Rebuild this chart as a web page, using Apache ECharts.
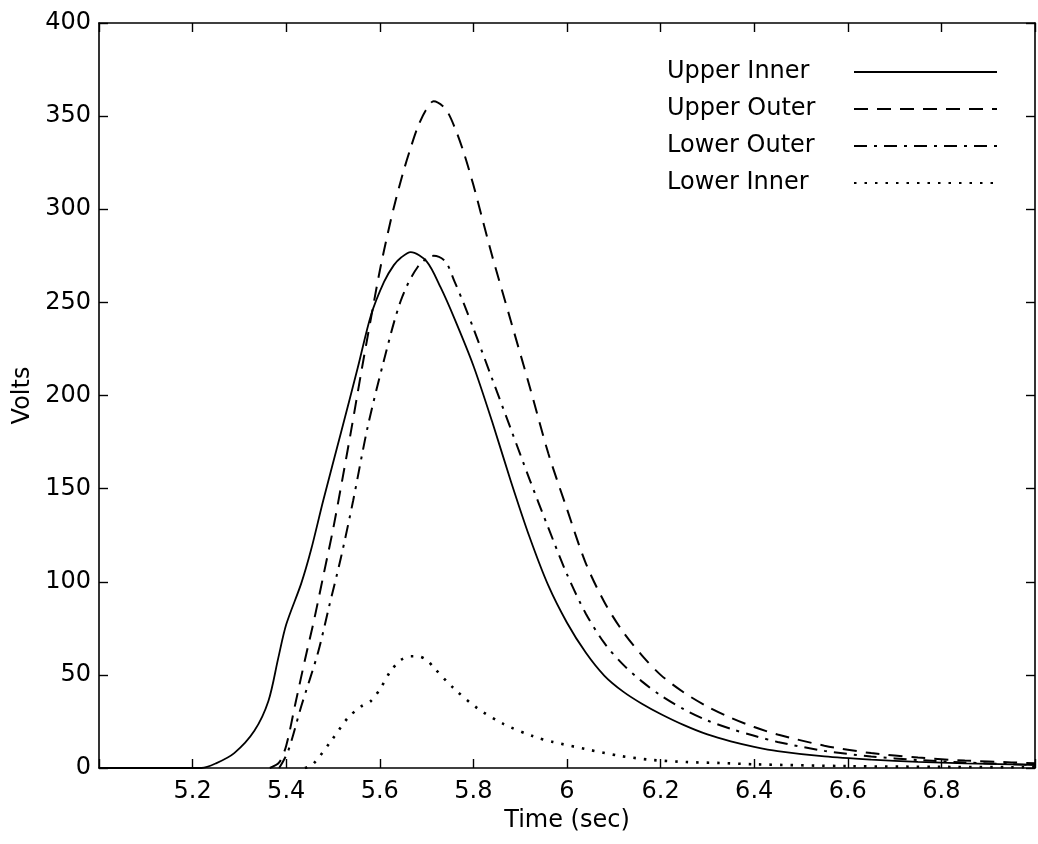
<!DOCTYPE html>
<html>
<head>
<meta charset="utf-8">
<script src="https://cdn.jsdelivr.net/npm/echarts@6/dist/echarts.min.js"></script>
<style>
  html, body { margin: 0; padding: 0; background: #fff; }
  #chart { width: 1038px; height: 844px; }
</style>
</head>
<body>
<div id="chart"></div>
<script>
// ---- data ----
const seriesNames = ['Upper Inner', 'Upper Outer', 'Lower Outer', 'Lower Inner'];

const upperInnerT = [5.00, 5.20, 5.219, 5.25, 5.289, 5.332, 5.362, 5.383, 5.400, 5.432, 5.453, 5.479, 5.517, 5.553, 5.581, 5.609, 5.630, 5.645, 5.666, 5.70, 5.73, 5.76, 5.80, 5.84, 5.88, 5.92, 5.96, 6.00, 6.04, 6.08, 6.12, 6.16, 6.20, 6.25, 6.30, 6.35, 6.40, 6.45, 6.55, 6.65, 6.75, 6.85, 6.95, 7.00];
const upperInnerV = [0, 0, 0, 2.5, 8, 20, 36, 59, 77, 99, 117, 143.5, 180, 215, 243, 261, 270, 274, 277, 272, 258, 241, 216, 186, 154, 124, 98, 78, 62, 49.5, 41, 34.5, 29, 23, 18, 14.3, 11.4, 9.1, 6.2, 4.5, 3.3, 2.5, 1.9, 1.6];

const upperOuterT = [5.365, 5.385, 5.40, 5.42, 5.44, 5.46, 5.48, 5.50, 5.52, 5.54, 5.56, 5.58, 5.60, 5.617, 5.630, 5.649, 5.666, 5.681, 5.698, 5.715, 5.74, 5.76, 5.78, 5.80, 5.82, 5.84, 5.88, 5.92, 5.96, 6.00, 6.04, 6.08, 6.12, 6.16, 6.20, 6.25, 6.30, 6.35, 6.40, 6.45, 6.55, 6.65, 6.75, 6.85, 6.95, 7.00];
const upperOuterV = [0, 3, 12, 35, 58, 80, 104, 128, 155, 183, 212, 240, 267, 287, 301, 319, 333, 344, 353, 358, 354, 344, 330, 313, 294, 275, 240, 205, 169, 139, 110, 89, 73, 60.5, 50, 40.5, 33, 27, 22, 18, 12, 8, 5.6, 4, 3, 2.6];

const lowerOuterT = [5.385, 5.404, 5.432, 5.468, 5.491, 5.517, 5.543, 5.574, 5.609, 5.645, 5.681, 5.715, 5.74, 5.76, 5.78, 5.80, 5.84, 5.88, 5.92, 5.96, 6.00, 6.04, 6.08, 6.12, 6.16, 6.20, 6.25, 6.30, 6.35, 6.40, 6.45, 6.55, 6.65, 6.75, 6.85, 6.95, 7.00];
const lowerOuterV = [0, 9, 33, 62, 86, 113, 143.5, 183, 219, 251, 269, 275, 272, 261, 249, 236, 209, 182, 155, 129, 104, 83, 67, 55.5, 46.5, 39, 31.5, 25.5, 21, 17.3, 14, 9.2, 6.2, 4.3, 3, 2, 1.7];

const lowerInnerT = [5.44, 5.457, 5.496, 5.532, 5.560, 5.581, 5.602, 5.623, 5.645, 5.666, 5.681, 5.700, 5.715, 5.757, 5.809, 5.864, 5.928, 5.970, 6.043, 6.113, 6.183, 6.255, 6.326, 6.40, 6.60, 6.80, 7.00];
const lowerInnerV = [0, 2, 14.5, 27, 33, 36, 43, 52, 58, 60, 60, 58, 54, 43, 32, 23.7, 17, 14, 10, 6.5, 4.3, 3.2, 2.7, 2, 1, 0.6, 0.4];

const xMin = 5.0, xMax = 7.0, xStep = 0.2;
const yMin = 0, yMax = 400, yStep = 50;

// ---- build ----
function pairs(t, v) { return t.map((x, i) => [x, v[i]]); }
const FONT = 'DejaVu Sans';
const dashStyles = ['solid', [14, 9], [13, 7, 3, 7], [2.5, 8]];
const lineWidths = [1.8, 2, 2, 2.6];
const allData = [
  pairs(upperInnerT, upperInnerV),
  pairs(upperOuterT, upperOuterV),
  pairs(lowerOuterT, lowerOuterV),
  pairs(lowerInnerT, lowerInnerV)
];

const axisCommon = {
  axisLine: { show: true, onZero: false, lineStyle: { color: '#000', width: 1.6 } },
  axisTick: { show: true, inside: true, length: 9, lineStyle: { color: '#000', width: 1.4 } },
  splitLine: { show: false }
};

function xFmt(v) {
  if (Math.abs(v - xMin) < 1e-6 || Math.abs(v - xMax) < 1e-6) return '';
  return String(parseFloat(v.toFixed(1)));
}

const chart = echarts.init(document.getElementById('chart'), null, { renderer: 'canvas' });
chart.setOption({
  backgroundColor: '#fff',
  animation: false,
  grid: { left: 99, right: 1, top: 23, bottom: 76, containLabel: false },
  legend: {
    data: seriesNames,
    orient: 'vertical',
    right: 40,
    top: 60,
    padding: 0,
    align: 'right',
    itemWidth: 143,
    itemHeight: 14,
    itemGap: 13,
    itemStyle: { opacity: 0, borderWidth: 0 },
    formatter: name => '{n|' + name + '}',
    textStyle: {
      fontFamily: FONT, fontSize: 24, color: '#000', lineHeight: 24,
      rich: { n: { width: 182, align: 'left', fontFamily: FONT, fontSize: 24, color: '#000' } }
    }
  },
  xAxis: [
    Object.assign({}, axisCommon, {
      type: 'value', position: 'bottom', min: xMin, max: xMax, interval: xStep,
      name: 'Time (sec)', nameLocation: 'middle', nameGap: 27,
      nameTextStyle: { fontFamily: FONT, fontSize: 24, color: '#000' },
      axisLabel: { show: true, margin: 12, fontFamily: FONT, fontSize: 24, color: '#000', formatter: xFmt }
    }),
    Object.assign({}, axisCommon, {
      type: 'value', position: 'top', min: xMin, max: xMax, interval: xStep,
      axisLabel: { show: false }
    })
  ],
  yAxis: [
    Object.assign({}, axisCommon, {
      type: 'value', position: 'left', min: yMin, max: yMax, interval: yStep,
      name: 'Volts', nameLocation: 'middle', nameGap: 55,
      nameTextStyle: { fontFamily: FONT, fontSize: 24, color: '#000' },
      axisLabel: { show: true, margin: 8, fontFamily: FONT, fontSize: 24, color: '#000' }
    }),
    Object.assign({}, axisCommon, {
      type: 'value', position: 'right', min: yMin, max: yMax, interval: yStep,
      axisLabel: { show: false }
    })
  ],
  series: seriesNames.map((name, i) => ({
    name: name,
    type: 'line',
    xAxisIndex: 0,
    yAxisIndex: 0,
    data: allData[i],
    symbol: 'none',
    showSymbol: false,
    smooth: 0.3,
    lineStyle: { color: '#000', width: lineWidths[i], type: dashStyles[i] },
    itemStyle: { color: '#000' }
  }))
});
</script>
</body>
</html>
